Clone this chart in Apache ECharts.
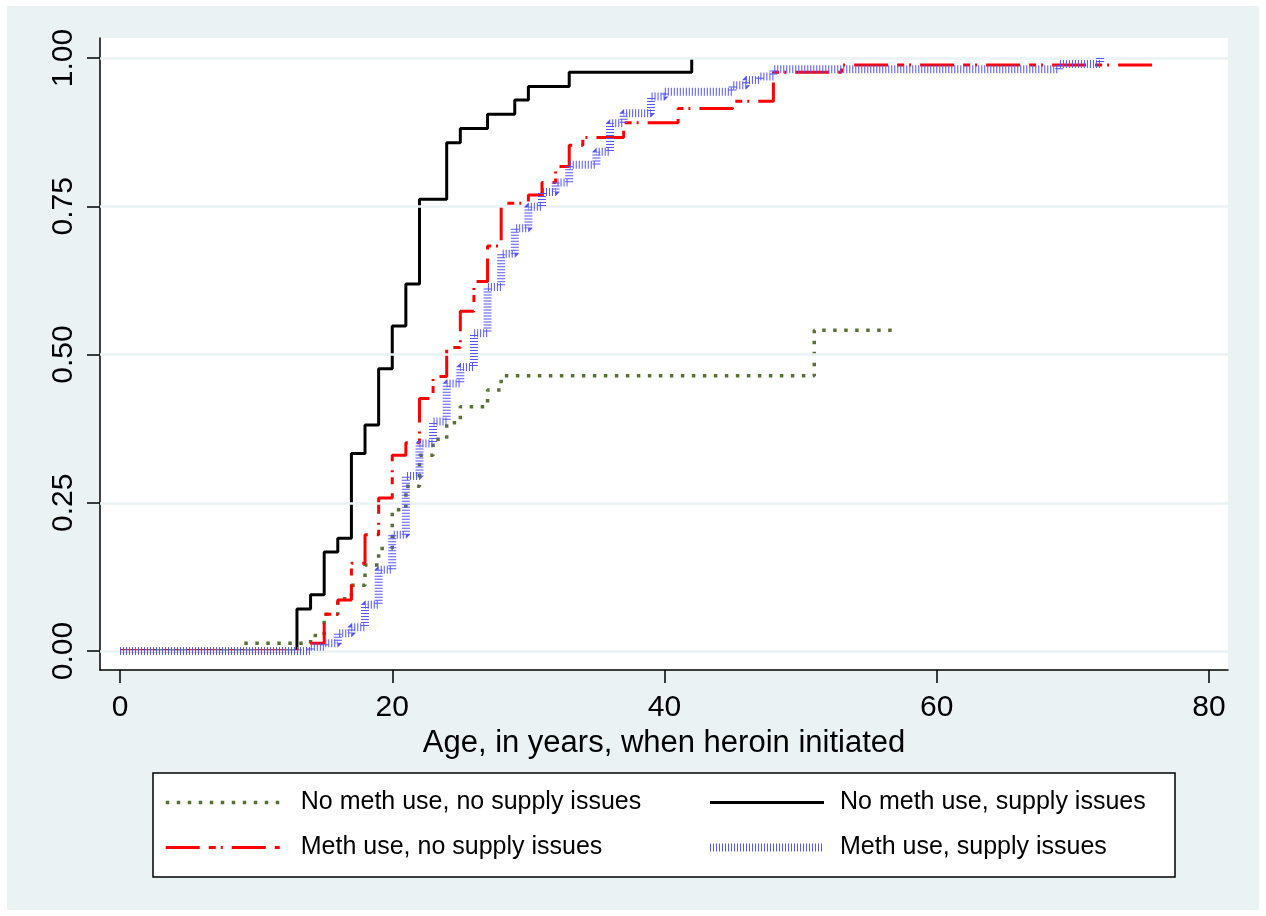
<!DOCTYPE html>
<html>
<head>
<meta charset="utf-8">
<script src="https://cdn.jsdelivr.net/npm/echarts@6/dist/echarts.min.js"></script>
<style>
  html, body { margin: 0; padding: 0; background: #ffffff; }
  #chart {
    width: 1266px; height: 916px;
    background: linear-gradient(#eaf2f3, #eaf2f3) 7px 6px / 1252px 904px no-repeat, #ffffff;
  }
</style>
</head>
<body>
<div id="chart"></div>
<script>
// ---- Data ----
const seriesNames = [
  'No meth use, no supply issues',
  'No meth use, supply issues',
  'Meth use, no supply issues',
  'Meth use, supply issues'
];

const greenX = [0, 9, 14, 15, 16, 17, 18, 19, 20, 21, 22, 23, 24, 25, 27, 28, 51, 57];
const greenY = [0, 0.013, 0.026, 0.062, 0.088, 0.111, 0.145, 0.173, 0.238, 0.278, 0.33, 0.357, 0.385, 0.412, 0.44, 0.464, 0.541, 0.541];

const blackX = [0, 13, 14, 15, 16, 17, 18, 19, 20, 21, 22, 24, 25, 27, 29, 30, 33, 42];
const blackY = [0, 0.071, 0.095, 0.167, 0.190, 0.333, 0.381, 0.476, 0.548, 0.619, 0.762, 0.857, 0.881, 0.905, 0.929, 0.952, 0.976, 1.0];

const redX = [0, 14, 15, 16, 17, 18, 19, 20, 21, 22, 23, 24, 25, 26, 27, 28, 30, 31, 32, 33, 34, 37, 41, 45, 48, 53, 76];
const redY = [0, 0.013, 0.062, 0.086, 0.148, 0.196, 0.258, 0.33, 0.351, 0.426, 0.463, 0.512, 0.573, 0.623, 0.683, 0.755, 0.769, 0.79, 0.817, 0.853, 0.866, 0.891, 0.915, 0.927, 0.976, 0.988, 1.0];

const blueX = [0, 14, 15, 16, 17, 18, 19, 20, 21, 22, 23, 24, 25, 26, 27, 28, 29, 30, 31, 32, 33, 35, 36, 37, 39, 40, 45, 46, 47, 48, 69, 72];
const blueY = [0, 0.007, 0.013, 0.03, 0.04, 0.078, 0.137, 0.196, 0.295, 0.35, 0.387, 0.451, 0.479, 0.536, 0.614, 0.67, 0.713, 0.749, 0.774, 0.79, 0.82, 0.842, 0.89, 0.907, 0.935, 0.943, 0.954, 0.963, 0.969, 0.981, 0.99, 1.0];

const xTicks = [0, 20, 40, 60, 80];
const yTicks = [0, 0.25, 0.5, 0.75, 1];
const xTitle = 'Age, in years, when heroin initiated';

// ---- Chart ----
const FONT = "'Liberation Sans', Arial, Helvetica, sans-serif";
const zip = (xs, ys) => xs.map((x, i) => [x, ys[i]]);

const styles = [
  { color: '#587236', width: 3.5, type: [3.5, 7.5] },
  { color: '#000000', width: 3, type: 'solid' },
  { color: '#ff0000', width: 3, type: [34, 9, 7, 5, 2, 9] },
  { color: '#5555ff', width: 8, type: [1, 2] }
];
const dataSets = [zip(greenX, greenY), zip(blackX, blackY), zip(redX, redY), zip(blueX, blueY)];

const chart = echarts.init(document.getElementById('chart'), null, { renderer: 'canvas' });

const series = [{
  type: 'line', data: [], silent: true, z: 1,
  markLine: {
    silent: true, symbol: 'none', animation: false,
    label: { show: false },
    lineStyle: { color: '#eaf2f3', width: 2.5, type: 'solid' },
    data: yTicks.map(v => ({ yAxis: v }))
  }
}];
dataSets.forEach((d, i) => {
  series.push({
    name: seriesNames[i],
    type: 'line',
    step: 'end',
    data: d,
    symbol: 'none',
    showSymbol: false,
    itemStyle: { color: styles[i].color },
    lineStyle: { color: styles[i].color, width: styles[i].width, type: styles[i].type, cap: 'butt' },
    z: 2 + i
  });
});

const legendItem = (i, pad) => ({
  name: seriesNames[i],
  itemStyle: { opacity: 0 },
  lineStyle: { width: styles[i].width, type: styles[i].type, color: styles[i].color },
  textStyle: { padding: [0, 0, 0, pad] }
});
const legendCommon = {
  orient: 'vertical', top: 790, padding: 0,
  itemWidth: 114, itemHeight: 14, itemGap: 20,
  selectedMode: false,
  itemStyle: { opacity: 0 },
  textStyle: { fontSize: 25, lineHeight: 25, color: '#000', fontFamily: FONT },
  z: 10
};

chart.setOption({
  animation: false,
  backgroundColor: 'transparent',
  textStyle: { fontFamily: FONT },
  grid: {
    left: 100, top: 38, width: 1128, height: 632,
    show: true, backgroundColor: '#ffffff', borderWidth: 0
  },
  xAxis: {
    type: 'value',
    min: -20 / 13.6125, max: 80 + 19 / 13.6125,
    axisLine: { show: true, onZero: false, lineStyle: { color: '#000', width: 1.5 } },
    axisTick: { show: true, customValues: xTicks, length: 13, lineStyle: { color: '#000', width: 1.5 } },
    axisLabel: { customValues: xTicks, fontSize: 30, color: '#000', margin: 23, fontFamily: FONT },
    splitLine: { show: false },
    name: xTitle, nameLocation: 'middle', nameGap: 56,
    nameTextStyle: { fontSize: 31, color: '#000', fontFamily: FONT }
  },
  yAxis: {
    type: 'value',
    min: -19 / 593, max: 1 + 20 / 593,
    axisLine: { show: true, onZero: false, lineStyle: { color: '#000', width: 1.5 } },
    axisTick: { show: true, customValues: yTicks, length: 13, lineStyle: { color: '#000', width: 1.5 } },
    axisLabel: {
      customValues: yTicks, fontSize: 30, color: '#000', margin: 21, rotate: 90,
      fontFamily: FONT, formatter: v => Number(v).toFixed(2)
    },
    splitLine: { show: false }
  },
  legend: [
    Object.assign({}, legendCommon, { left: 164, data: [legendItem(0, 16), legendItem(2, 16)] }),
    Object.assign({}, legendCommon, { left: 706, data: [legendItem(1, 11), legendItem(3, 11)] })
  ],
  graphic: [{
    type: 'rect', z: 0, silent: true,
    shape: { x: 153, y: 773, width: 1022, height: 104 },
    style: { fill: '#ffffff', stroke: '#000000', lineWidth: 1.5 }
  }],
  series: series
});
</script>
</body>
</html>
